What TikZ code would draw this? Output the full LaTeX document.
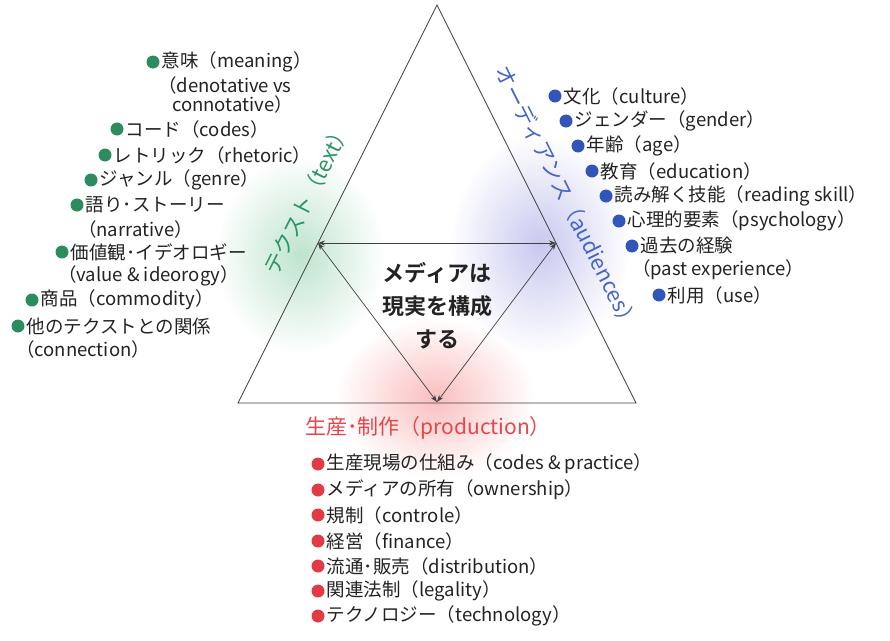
\documentclass[tikz,border=0pt]{standalone}
\usepackage{fontspec}
\setmainfont{Noto Sans CJK JP}
\newfontfamily\boldjp{Noto Sans CJK JP Bold}
\usetikzlibrary{arrows.meta}
\definecolor{tgreen}{RGB}{40,150,100}
\definecolor{bgreen}{RGB}{45,140,95}
\definecolor{tblue}{RGB}{70,100,200}
\definecolor{bblue}{RGB}{50,85,185}
\definecolor{tred}{RGB}{230,70,75}
\definecolor{bred}{RGB}{225,60,70}
\definecolor{txt}{RGB}{35,35,35}
\definecolor{blobG}{RGB}{190,228,205}
\definecolor{blobB}{RGB}{200,200,240}
\definecolor{blobR}{RGB}{250,190,190}
\begin{document}
\begin{tikzpicture}[x=1pt,y=-1pt,
  item/.style={anchor=west,inner sep=0pt,font=\fontsize{18.5}{18.5}\selectfont,text=txt},
  gdot/.style={circle,fill=bgreen,inner sep=0pt,minimum size=13pt},
  bdot/.style={circle,fill=bblue,inner sep=0pt,minimum size=13pt},
  rdot/.style={circle,fill=bred,inner sep=0pt,minimum size=13pt},
  tri/.style={draw=black!75,line width=0.8pt},
  arr/.style={draw=black!75,line width=0.7pt,{Stealth[length=7pt,width=5pt]}-{Stealth[length=7pt,width=5pt]}},
  side/.style={inner sep=0pt,font=\fontsize{21.5}{21.5}\selectfont}
]
\useasboundingbox (0,0) rectangle (890,640);
\fill[white] (0,0) rectangle (890,640);
% soft colour blobs
\shade[inner color=blobG,outer color=white] (300,255) ellipse (85 and 100);
\shade[inner color=blobB,outer color=white] (540,245) ellipse (90 and 110);
\shade[inner color=blobR,outer color=white] (435,398) ellipse (100 and 80);
% triangle
\coordinate (T) at (437,5);
\coordinate (BL) at (238,403);
\coordinate (BR) at (636,403);
\draw[tri] (T) -- (BL) -- (BR) -- cycle;
\coordinate (L) at (318,243);
\coordinate (R) at (556,243);
\coordinate (B) at (437,402);
\draw[arr] (L) -- (R);
\draw[arr] (L) -- (B);
\draw[arr] (R) -- (B);
% centre text
\node[align=center,text=txt,font=\boldjp\fontsize{22}{33}\selectfont] (center) at (437,306) {メディアは\\現実を構成\\する};
% side labels
\node[side,text=tgreen,rotate=63.4] (text) at (307,199) {テクスト（text）};
\node[side,text=tblue,rotate=-63.4] (aud) at (567,198) {オーディアンス（audiences）};
\node[anchor=west,inner sep=0pt,text=tred,font=\fontsize{21}{21}\selectfont] (prod) at (305,428) {生産･制作（production）};
% left list
\node[gdot] (g1) at (153,62) {};
\node[item] (t1) at ([xshift=2pt]g1.east) {意味（meaning）};
\node[item] (t1b) at (158,85) {（denotative vs};
\node[item] (t1c) at (172,104) {connotative）};
\node[gdot] (g2) at (117,129) {};
\node[item] (t2) at ([xshift=2pt]g2.east) {コード（codes）};
\node[gdot] (g3) at (105,155) {};
\node[item] (t3) at ([xshift=2pt]g3.east) {レトリック（rhetoric）};
\node[gdot] (g4) at (91,180) {};
\node[item] (t4) at ([xshift=2pt]g4.east) {ジャンル（genre）};
\node[gdot] (g5) at (77,205) {};
\node[item] (t5) at ([xshift=2pt]g5.east) {語り･ストーリー};
\node[item] (t5b) at (78,229) {（narrative）};
\node[gdot] (g6) at (62,252) {};
\node[item] (t6) at ([xshift=2pt]g6.east) {価値観･イデオロギー};
\node[item] (t6b) at (58,276) {（value \& ideorogy）};
\node[gdot] (g7) at (32,300) {};
\node[item] (t7) at ([xshift=2pt]g7.east) {商品（commodity）};
\node[gdot] (g8) at (18,326) {};
\node[item] (t8) at ([xshift=2pt]g8.east) {他のテクストとの関係};
\node[item] (t8b) at (16,349) {（connection）};
% right list
\node[bdot] (b1) at (555,96) {};
\node[item] (u1) at ([xshift=2pt]b1.east) {文化（culture）};
\node[bdot] (b2) at (566,121) {};
\node[item] (u2) at ([xshift=2pt]b2.east) {ジェンダー（gender）};
\node[bdot] (b3) at (578,146) {};
\node[item] (u3) at ([xshift=2pt]b3.east) {年齢（age）};
\node[bdot] (b4) at (592,171) {};
\node[item] (u4) at ([xshift=2pt]b4.east) {教育（education）};
\node[bdot] (b5) at (606,196) {};
\node[item] (u5) at ([xshift=2pt]b5.east) {読み解く技能（reading skill）};
\node[bdot] (b6) at (619,221) {};
\node[item] (u6) at ([xshift=2pt]b6.east) {心理的要素（psychology）};
\node[bdot] (b7) at (632,246) {};
\node[item] (u7) at ([xshift=2pt]b7.east) {過去の経験};
\node[item] (u7b) at (632,270) {（past experience）};
\node[bdot] (b8) at (659,295) {};
\node[item] (u8) at ([xshift=2pt]b8.east) {利用（use）};
% bottom list
\node[rdot] (r1) at (318,464) {};
\node[item] (p1) at ([xshift=2pt]r1.east) {生産現場の仕組み（codes \& practice）};
\node[rdot] (r2) at (318,490) {};
\node[item] (p2) at ([xshift=2pt]r2.east) {メディアの所有（ownership）};
\node[rdot] (r3) at (318,515) {};
\node[item] (p3) at ([xshift=2pt]r3.east) {規制（controle）};
\node[rdot] (r4) at (318,541) {};
\node[item] (p4) at ([xshift=2pt]r4.east) {経営（finance）};
\node[rdot] (r5) at (318,566) {};
\node[item] (p5) at ([xshift=2pt]r5.east) {流通･販売（distribution）};
\node[rdot] (r6) at (318,591) {};
\node[item] (p6) at ([xshift=2pt]r6.east) {関連法制（legality）};
\node[rdot] (r7) at (318,616) {};
\node[item] (p7) at ([xshift=2pt]r7.east) {テクノロジー（technology）};
\end{tikzpicture}
\end{document}
